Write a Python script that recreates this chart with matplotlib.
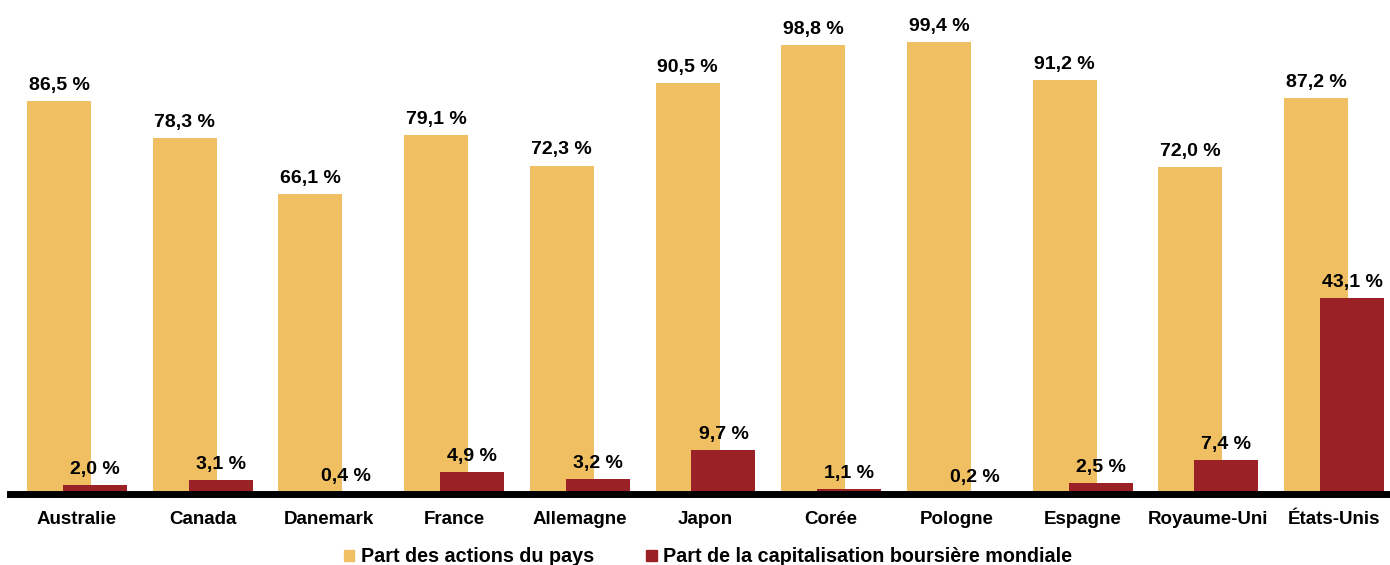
import numpy as np
import matplotlib
matplotlib.use("Agg")
import matplotlib.pyplot as plt
from matplotlib.patches import Patch

plt.rcParams['font.family'] = ['Liberation Sans', 'DejaVu Sans']
plt.rcParams['font.weight'] = 'bold'

countries = ['Australie', 'Canada', 'Danemark', 'France', 'Allemagne', 'Japon',
             'Corée', 'Pologne', 'Espagne', 'Royaume-Uni', 'États-Unis']
part_actions = [86.5, 78.3, 66.1, 79.1, 72.3, 90.5, 98.8, 99.4, 91.2, 72.0, 87.2]
part_capi = [2.0, 3.1, 0.4, 4.9, 3.2, 9.7, 1.1, 0.2, 2.5, 7.4, 43.1]
series_names = ['Part des actions du pays', 'Part de la capitalisation boursière mondiale']

yellow = '#EFBF62'
red = '#9A2126'

def fmt(v):
    return f"{v:.1f}".replace('.', ',') + ' %'

fig = plt.figure(figsize=(13.9, 5.65), dpi=100)
ax = fig.add_axes([0, 71 / 565, 1, 494 / 565])

x = np.arange(len(countries))
w = 0.509
off = 0.143

ax.bar(x - off, part_actions, width=w, color=yellow, zorder=2)
ax.bar(x + off, part_capi, width=w, color=red, zorder=3)

for xi, v in zip(x - off, part_actions):
    ax.annotate(fmt(v), (xi, v), xytext=(0, 8), textcoords='offset points',
                ha='center', va='baseline', fontsize=14, fontweight='bold', zorder=5)
for xi, v in zip(x + off, part_capi):
    ax.annotate(fmt(v), (xi, v), xytext=(0, 8), textcoords='offset points',
                ha='center', va='baseline', fontsize=14, fontweight='bold', zorder=5)

# thick baseline
ax.axhline(0, xmin=10 / 1390, xmax=1, color='black', lw=5, zorder=4, clip_on=False)

ax.set_xlim(-77 / 125.7, 1313 / 125.7)
ax.set_ylim(0, 494 / 4.543)
ax.set_xticks(x)
ax.set_xticklabels(countries, fontsize=13.5, fontweight='bold')
ax.tick_params(axis='x', length=0, pad=12)
ax.set_yticks([])
for s in ax.spines.values():
    s.set_visible(False)

handles = [Patch(color=yellow), Patch(color=red)]
fig.legend(handles, series_names, loc='center', bbox_to_anchor=(708 / 1390, 8 / 565),
           ncol=2, frameon=False, fontsize=14.2, handlelength=0.55, handleheight=0.55,
           handletextpad=0.35, columnspacing=2.6, borderpad=0)

fig.savefig('out.png', dpi=100)
